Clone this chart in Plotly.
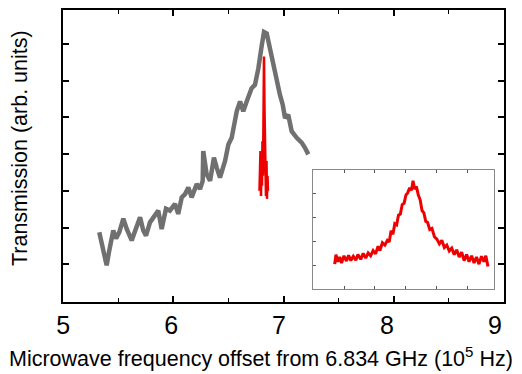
import plotly.graph_objects as go

# Main (grey) transmission trace: frequency offset (1e5 Hz) vs transmission (arb.)
grey_x = [5.329, 5.351, 5.366, 5.396, 5.420, 5.442, 5.456, 5.481, 5.510, 5.547,
          5.578, 5.623, 5.653, 5.699, 5.728, 5.753, 5.789, 5.834, 5.864, 5.895,
          5.934, 5.970, 6.016, 6.045, 6.077, 6.107, 6.137, 6.167, 6.213, 6.243,
          6.267, 6.272, 6.303, 6.334, 6.369, 6.394, 6.424, 6.470, 6.500, 6.530,
          6.576, 6.606, 6.635, 6.666, 6.711, 6.741, 6.772, 6.803, 6.823, 6.848,
          6.878, 6.908, 6.938, 6.968, 6.993, 7.014, 7.043, 7.074, 7.120, 7.165,
          7.195, 7.225]
grey_y = [1.87, 1.56, 1.38, 0.97, 1.38, 1.74, 1.92, 1.70, 1.87, 2.24,
          1.96, 1.65, 1.92, 2.28, 1.92, 1.78, 2.14, 2.32, 2.46, 1.96,
          2.51, 2.46, 2.64, 2.37, 2.82, 2.91, 3.09, 2.82, 3.18, 3.05,
          3.27, 4.08, 3.45, 3.27, 3.90, 3.63, 3.36, 3.81, 4.26, 4.44,
          5.16, 5.43, 5.16, 5.43, 5.79, 5.88, 6.33, 6.96, 7.32, 7.28,
          6.87, 6.33, 6.06, 5.61, 5.34, 4.98, 5.07, 4.62, 4.44, 4.31,
          4.17, 3.99]

# Narrow red resonance in main panel
red_main_x = [6.782, 6.791, 6.796, 6.800, 6.805, 6.809, 6.814, 6.818, 6.823,
              6.828, 6.832, 6.837, 6.841, 6.846, 6.850, 6.855, 6.859]
red_main_y = [3.00, 4.08, 2.86, 3.81, 3.14, 4.35, 3.41, 4.89, 6.65,
              5.16, 3.68, 4.08, 2.86, 3.81, 2.78, 3.41, 3.00]

# Inset red trace (zoomed resonance)
inset_x = [-2.30, -2.26, -2.20, -2.14, -2.08, -2.00, -1.92, -1.85, -1.78, -1.70,
           -1.62, -1.55, -1.46, -1.38, -1.30, -1.22, -1.14, -1.06, -0.98, -0.90,
           -0.84, -0.76, -0.68, -0.60, -0.54, -0.48, -0.42, -0.36, -0.30, -0.24,
           -0.18, -0.12, -0.06, 0.00, 0.06, 0.12, 0.18, 0.23, 0.28, 0.34,
           0.40, 0.46, 0.52, 0.58, 0.64, 0.70, 0.77, 0.84, 0.92, 1.00,
           1.08, 1.16, 1.24, 1.32, 1.40, 1.48, 1.56, 1.64, 1.72, 1.80,
           1.88, 1.96, 2.04, 2.12, 2.20, 2.28, 2.36, 2.44, 2.52, 2.58, 2.65]
inset_y = [0.05, 0.45, 0.15, 0.35, 0.10, 0.40, 0.18, 0.42, 0.20, 0.38,
           0.22, 0.45, 0.25, 0.50, 0.30, 0.52, 0.40, 0.62, 0.48, 0.80,
           0.62, 0.95, 0.85, 1.05, 0.98, 1.45, 1.30, 1.75, 1.70, 2.10,
           2.15, 2.55, 2.60, 2.95, 3.05, 3.25, 3.15, 3.55, 3.20, 3.30,
           2.95, 2.75, 2.30, 2.20, 1.85, 1.80, 1.50, 1.55, 1.20, 1.10,
           0.90, 1.05, 0.75, 0.85, 0.60, 0.72, 0.45, 0.65, 0.35, 0.55,
           0.20, 0.45, 0.15, 0.40, 0.10, 0.35, 0.05, 0.38, 0.15, 0.40, -0.05]

x_tickvals = [5, 6, 7, 8, 9]
x_ticktext = ["5", "6", "7", "8", "9"]
y_tickvals = [1, 2, 3, 4, 5, 6, 7]
inset_xticks = [-2, -1, 0, 1, 2]
inset_yticks_left = [0, 1, 2, 3]
inset_yticks_right = [0, 1, 2]

FONT = "Arial, Liberation Sans, sans-serif"

fig = go.Figure()
fig.add_trace(go.Scatter(x=grey_x, y=grey_y, mode="lines",
                         line=dict(color="#707070", width=4.5),
                         showlegend=False, xaxis="x", yaxis="y"))
fig.add_trace(go.Scatter(x=red_main_x, y=red_main_y, mode="lines",
                         line=dict(color="#ee0000", width=2.5),
                         showlegend=False, xaxis="x", yaxis="y"))
fig.add_trace(go.Scatter(x=inset_x, y=inset_y, mode="lines",
                         line=dict(color="#ee0000", width=3),
                         showlegend=False, xaxis="x2", yaxis="y2"))
# invisible helper so the label-only axis (x3) is drawn
fig.add_trace(go.Scatter(x=x_tickvals[:1], y=y_tickvals[:1], mode="markers",
                         marker=dict(opacity=0), hoverinfo="skip",
                         showlegend=False, xaxis="x3", yaxis="y"))

fig.update_layout(
    width=514, height=366,
    margin=dict(l=55, r=18, t=0, b=72),
    paper_bgcolor="white", plot_bgcolor="white",
    font=dict(family=FONT, color="black"),
    xaxis=dict(range=[5, 9], tickvals=x_tickvals, ticks="inside", ticklen=6,
               tickwidth=1.5, tickcolor="black", showticklabels=False,
               showline=True, linecolor="black", linewidth=2, mirror="ticks",
               showgrid=False, zeroline=False,
               minor=dict(dtick=0.5, ticks="inside", ticklen=4, tickcolor="black",
                          tickwidth=1.2, showgrid=False)),
    # label-only axis carrying the tick numbers (slightly tighter spacing as in the original)
    xaxis3=dict(overlaying="x", anchor="y", side="bottom", range=[4.999, 9.083],
                tickvals=x_tickvals, ticktext=x_ticktext, ticks="",
                showline=False, showgrid=False, zeroline=False,
                tickfont=dict(size=25, family=FONT), ticklabelstandoff=6),
    yaxis=dict(range=[-0.027, 7.919], tickvals=y_tickvals, ticks="inside", ticklen=6,
               tickwidth=1.5, tickcolor="black", showticklabels=False,
               showline=True, linecolor="black", linewidth=2, mirror="ticks",
               showgrid=False, zeroline=False),
    xaxis2=dict(domain=[0.567, 0.977], anchor="y2", range=[-3.0, 2.84],
                tickvals=inset_xticks, showticklabels=False, ticks="inside",
                ticklen=3, tickcolor="#555", showline=True, linecolor="#888",
                linewidth=1, mirror="ticks", showgrid=False, zeroline=False),
    yaxis2=dict(domain=[0.044, 0.452], anchor="x2", range=[-1.0, 4.0],
                tickvals=inset_yticks_left, showticklabels=False, ticks="inside",
                ticklen=3, tickcolor="#555", showline=True, linecolor="#888",
                linewidth=1, mirror=True, showgrid=False, zeroline=False),
    yaxis4=dict(overlaying="y2", anchor="x2", side="right", range=[-0.676, 2.568],
                tickvals=inset_yticks_right, showticklabels=False, ticks="inside",
                ticklen=3, tickcolor="#555", showline=False, showgrid=False,
                zeroline=False),
    annotations=[
        dict(text="Microwave frequency offset from 6.834 GHz (10<sup>5</sup> Hz)",
             xref="paper", yref="paper", x=0.449, y=-0.190, xanchor="center",
             yanchor="middle", showarrow=False, font=dict(size=21.5, family=FONT)),
        dict(text="Transmission (arb. units)", textangle=-90,
             xref="paper", yref="paper", x=-0.096, y=0.526, xanchor="center",
             yanchor="middle", showarrow=False, font=dict(size=21.5, family=FONT)),
    ],
)

fig.write_html("out.html")
